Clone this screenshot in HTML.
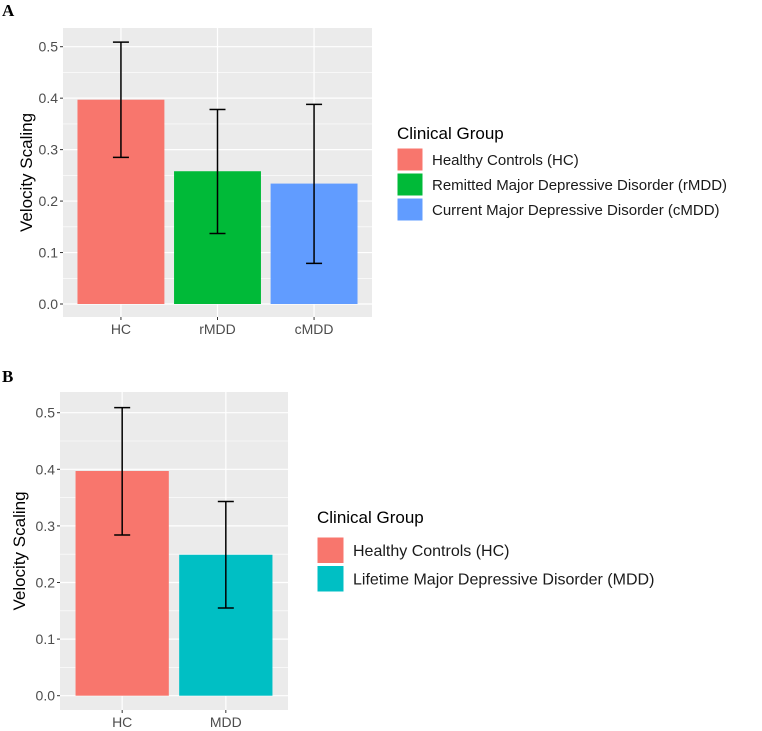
<!DOCTYPE html>
<html><head><meta charset="utf-8"><style>
body{margin:0;background:#fff;}
svg{display:block;font-family:"Liberation Sans",sans-serif;}
</style></head><body>
<svg id="chart" width="762" height="731" xmlns="http://www.w3.org/2000/svg"></svg>
<script>
const catsA=["HC","rMDD","cMDD"];
const valsA=[0.397,0.258,0.234];
const lowA=[0.285,0.137,0.079];
const highA=[0.509,0.378,0.388];
const colsA=["#F8766D","#00BA38","#619CFF"];
const legA=["Healthy Controls (HC)","Remitted Major Depressive Disorder (rMDD)","Current Major Depressive Disorder (cMDD)"];
const catsB=["HC","MDD"];
const valsB=[0.397,0.249];
const lowB=[0.284,0.155];
const highB=[0.509,0.343];
const colsB=["#F8766D","#00BFC4"];
const legB=["Healthy Controls (HC)","Lifetime Major Depressive Disorder (MDD)"];
const yTicks=[0,0.1,0.2,0.3,0.4,0.5];
const yTickLabels=["0.0","0.1","0.2","0.3","0.4","0.5"];

const svg=document.getElementById('chart');
const NS="http://www.w3.org/2000/svg";
function mk(tag,attrs,parent){const e=document.createElementNS(NS,tag);for(const k in attrs)e.setAttribute(k,attrs[k]);(parent||svg).appendChild(e);return e;}

function panel(p){
  const g=mk('g',{});
  
  
  const y=v=>p.y0+(p.y5-p.y0)*(v/0.5);
  const n=p.cats.length;
  const band=(p.x1-p.x0)/(n-1+1.2);
  const x=i=>p.x0+band*(0.6+i);
  mk('rect',{x:p.x0,y:p.top,width:p.x1-p.x0,height:p.bottom-p.top,fill:'#EBEBEB'},g);
  for(let i=0;i<yTicks.length-1;i++){
    const m=(yTicks[i]+yTicks[i+1])/2;
    mk('line',{x1:p.x0,x2:p.x1,y1:y(m),y2:y(m),stroke:'#fff','stroke-width':0.6},g);
  }
  yTicks.forEach((t,i)=>{
    const l=mk('line',{x1:p.x0,x2:p.x1,y1:y(t),y2:y(t),stroke:'#fff','stroke-width':1.2},g);
    
    
    mk('line',{x1:p.x0-3,x2:p.x0,y1:y(t),y2:y(t),stroke:'#333','stroke-width':1},g);
    const tx=mk('text',{x:p.x0-5,y:y(t)+5,'text-anchor':'end','font-size':14,fill:'#4D4D4D'},g);
    tx.textContent=yTickLabels[i];
    
    
  });
  p.cats.forEach((c,i)=>{
    mk('line',{x1:x(i),x2:x(i),y1:p.top,y2:p.bottom,stroke:'#fff','stroke-width':1.2},g);
    mk('line',{x1:x(i),x2:x(i),y1:p.bottom,y2:p.bottom+3,stroke:'#333','stroke-width':1},g);
    const tx=mk('text',{x:x(i),y:p.bottom+17,'text-anchor':'middle','font-size':14,fill:'#4D4D4D'},g);
    tx.textContent=c;
    
    
  });
  p.cats.forEach((c,i)=>{
    const bw=band*0.9;
    const r=mk('rect',{x:x(i)-bw/2,y:y(p.vals[i]),width:bw,height:y(0)-y(p.vals[i]),fill:p.cols[i]},g);
    
    
    const eg=mk('g',{stroke:'#000','stroke-width':1.5,fill:'none'},g);
    
    
    mk('line',{x1:x(i),x2:x(i),y1:y(p.low[i]),y2:y(p.high[i])},eg);
    mk('line',{x1:x(i)-8,x2:x(i)+8,y1:y(p.low[i]),y2:y(p.low[i])},eg);
    mk('line',{x1:x(i)-8,x2:x(i)+8,y1:y(p.high[i]),y2:y(p.high[i])},eg);
  });
  const yt=mk('text',{x:0,y:0,'text-anchor':'middle','font-size':17,fill:'#000',transform:`translate(${p.ytx},${(p.top+p.bottom)/2}) rotate(-90)`},g);
  yt.textContent='Velocity Scaling';
  
  
  const lg=mk('g',{},g);
  
  
  const tt=mk('text',{x:p.lx,y:p.lty,'font-size':17,fill:'#000'},lg);
  tt.textContent='Clinical Group';
  
  
  p.leg.forEach((s,i)=>{
    const ky=p.lky+i*p.lstep;
    const k=mk('rect',{x:p.lx,y:ky,width:p.kw,height:p.lstep-2,fill:p.cols[i],stroke:'#fff','stroke-width':1},lg);
    
    
    const t=mk('text',{x:p.lx+p.kw+9,y:ky+p.lstep/2+4.5,'font-size':p.lfs,fill:'#1a1a1a'},lg);
    t.textContent=s;
    
    
  });
}

panel({name:'panel-a',cats:catsA,vals:valsA,low:lowA,high:highA,cols:colsA,leg:legA,
  x0:63,x1:372,top:28,bottom:317,y0:304,y5:46.7,ytx:32,
  lx:397,lty:139,lky:148,lstep:25,kw:26,lfs:15});
panel({name:'panel-b',cats:catsB,vals:valsB,low:lowB,high:highB,cols:colsB,leg:legB,
  x0:60,x1:288,top:392,bottom:710,y0:695.7,y5:412.7,ytx:25,
  lx:317,lty:523,lky:537,lstep:28.5,kw:27,lfs:16});

const A=mk('text',{x:2,y:16,'font-size':17,'font-weight':'bold','font-family':'Liberation Serif, serif'});
A.textContent='A';


const B=mk('text',{x:2,y:382,'font-size':17,'font-weight':'bold','font-family':'Liberation Serif, serif'});
B.textContent='B';


</script>
</body></html>
